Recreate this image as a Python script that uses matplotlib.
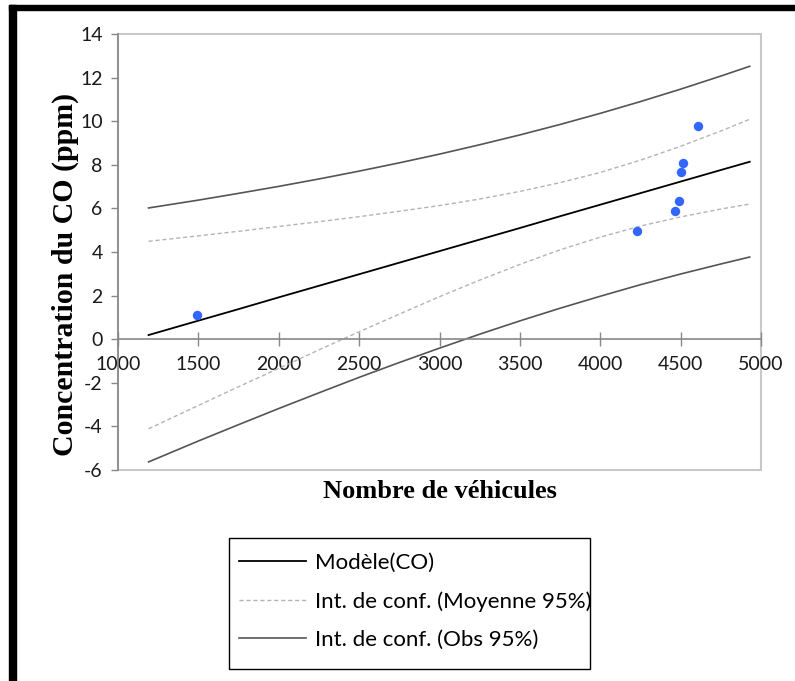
import numpy as np
import matplotlib.pyplot as plt
from matplotlib.patches import Rectangle
from matplotlib.lines import Line2D

plt.rcParams['axes.unicode_minus'] = False

# observed points
obs_x = [1490, 4230, 4468, 4491, 4504, 4514, 4610]
obs_y = [1.09, 4.95, 5.90, 6.34, 7.65, 8.09, 9.80]

# model line and confidence bands
band_x = [1190, 1500, 1750, 2000, 2250, 2500, 2750, 3000, 3250, 3500, 3750, 4000, 4250, 4500, 4750, 4930]
model_y = [0.19, 0.85, 1.38, 1.92, 2.45, 2.98, 3.51, 4.04, 4.57, 5.10, 5.64, 6.17, 6.70, 7.23, 7.76, 8.14]
mean_hi = [4.49, 4.74, 4.95, 5.17, 5.39, 5.62, 5.87, 6.13, 6.43, 6.78, 7.18, 7.65, 8.21, 8.85, 9.55, 10.09]
mean_lo = [-4.11, -3.04, -2.18, -1.34, -0.49, 0.34, 1.15, 1.95, 2.71, 3.43, 4.10, 4.68, 5.19, 5.61, 5.97, 6.20]
obs_hi = [6.02, 6.38, 6.69, 7.01, 7.35, 7.71, 8.09, 8.49, 8.92, 9.37, 9.85, 10.36, 10.90, 11.47, 12.07, 12.52]
obs_lo = [-5.63, -4.67, -3.92, -3.18, -2.46, -1.75, -1.07, -0.41, 0.23, 0.84, 1.42, 1.97, 2.50, 2.99, 3.45, 3.77]

x_ticks = [1000, 1500, 2000, 2500, 3000, 3500, 4000, 4500, 5000]
y_ticks = [-6, -4, -2, 0, 2, 4, 6, 8, 10, 12, 14]

tick_font = "Lato"
serif = "Liberation Serif"

fig = plt.figure(figsize=(7.95, 6.81), dpi=100)
ax = fig.add_axes([118/795, 1-470/681, (761-118)/795, (470-34)/681])

ax.plot(band_x, model_y, color="black", lw=1.3)
ax.plot(band_x, mean_hi, color="#b4b4b4", lw=1.0, ls=(0, (3, 2)))
ax.plot(band_x, mean_lo, color="#b4b4b4", lw=1.0, ls=(0, (3, 2)))
ax.plot(band_x, obs_hi, color="#555555", lw=1.2)
ax.plot(band_x, obs_lo, color="#555555", lw=1.2)
ax.scatter(obs_x, obs_y, s=46, color="#3366ff", zorder=5, linewidths=0)

ax.set_xlim(1000, 5000)
ax.set_ylim(-6, 14)
ax.set_xticks(x_ticks)
ax.set_yticks(y_ticks)

for s in ["top", "right"]:
    ax.spines[s].set_visible(False)
ax.spines["bottom"].set_position(("data", 0))
ax.spines["bottom"].set_color("#888888")
ax.spines["left"].set_color("#888888")
ax.spines["bottom"].set_linewidth(1.2)
ax.spines["left"].set_linewidth(1.2)
ax.add_patch(Rectangle((0, 0), 1, 1, transform=ax.transAxes, fill=False,
                       edgecolor="#c8c8c8", lw=1.5, clip_on=False, zorder=0))

ax.tick_params(axis="y", direction="out", length=5, width=1, color="#888888",
               pad=6, labelsize=14)
ax.tick_params(axis="x", direction="inout", length=10, width=1, color="#888888",
               pad=7, labelsize=14)
for lab in ax.get_xticklabels() + ax.get_yticklabels():
    lab.set_fontfamily(tick_font)
    lab.set_color("#1a1a1a")

fig.text(65/795, 1-274/681, "Concentration du CO (ppm)", rotation=90,
         ha="center", va="center", fontsize=21.5, fontweight="bold", family=serif)
fig.text(440/795, 1-492/681, "Nombre de véhicules",
         ha="center", va="center", fontsize=19, fontweight="bold", family=serif)

# legend (box drawn separately so the right padding stays tight)
handles = [Line2D([], [], color="black", lw=1.3),
           Line2D([], [], color="#b4b4b4", lw=1.0, ls=(0, (3, 2))),
           Line2D([], [], color="#555555", lw=1.2)]
labels = ["Modèle(CO)", "Int. de conf. (Moyenne 95%)", "Int. de conf. (Obs 95%)"]
leg = fig.legend(handles, labels, loc="upper left", borderaxespad=0,
                 bbox_to_anchor=(239/795, 1-553/681), frameon=False,
                 handlelength=3.0, labelspacing=0.82, borderpad=0, handletextpad=0.4,
                 prop={"family": tick_font, "size": 16})
fig.patches.append(Rectangle((229/795, 1-669/681), (590-229)/795, (669-538)/681,
                             transform=fig.transFigure, fill=False,
                             edgecolor="black", lw=1.0))

# thick black border on top and left
fig.patches.append(Rectangle((9/795, 0), 7/795, 1-5/681, transform=fig.transFigure,
                             color="black", zorder=10))
fig.patches.append(Rectangle((9/795, 1-10/681), 1, 5/681, transform=fig.transFigure,
                             color="black", zorder=10))

plt.savefig("out.png", dpi=100)
plt.close()
